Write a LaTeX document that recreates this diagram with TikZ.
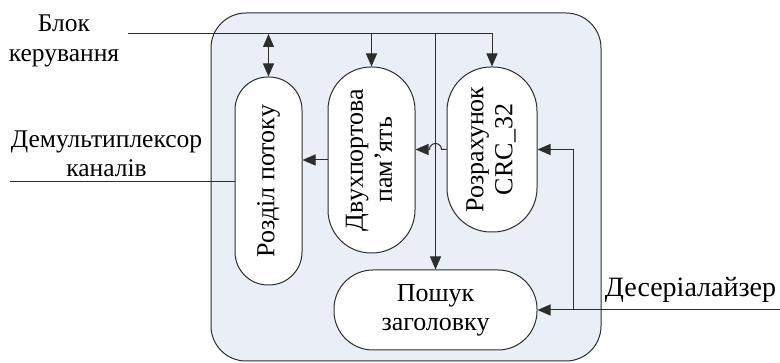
\documentclass[tikz,border=0pt]{standalone}
\usepackage{fontspec}
\setmainfont{Liberation Serif}
\newfontfamily\diagfont{Liberation Serif}
\usetikzlibrary{arrows.meta,calc}
\definecolor{blkfill}{RGB}{234,239,247}
\definecolor{blkline}{RGB}{45,45,45}

\begin{document}
\begin{tikzpicture}[x=1pt,y=-1pt,
      unit/.style={rectangle, draw=blkline, fill=white, line width=1pt, align=center, font=\diagfont\fontsize{26}{29}\selectfont},
      lbl/.style={align=center, inner sep=0pt, anchor=base, font=\diagfont\fontsize{25.5}{30}\selectfont},
      wire/.style={line width=1pt, blkline},
      arr/.style={-{Triangle[length=13pt,width=11pt]}, line width=1pt, blkline},
      darr/.style={{Triangle[length=13pt,width=11pt]}-{Triangle[length=13pt,width=11pt]}, line width=1pt, blkline}
    ]
      \useasboundingbox (0,0) rectangle (780,363);
      \draw[line width=1pt, blkline, fill=blkfill, rounded corners=35pt] (211,13) rectangle (601,361);

      \node[unit, minimum width=67, minimum height=208, rounded corners=33pt] (rozd) at (268.5,181) {\rotatebox{90}{Розділ потоку}};
      \node[unit, minimum width=87, minimum height=186, rounded corners=43pt] (dvuh) at (371.5,160) {\rotatebox{90}{\begin{tabular}{@{}c@{}}Двухпортова\\пам’ять\end{tabular}}};
      \node[unit, minimum width=90, minimum height=165, rounded corners=44pt] (crc) at (492,149.5) {\rotatebox{90}{\begin{tabular}{@{}c@{}}Розрахунок\\CRC\_32\end{tabular}}};
      \node[unit, minimum width=203, minimum height=80, rounded corners=39pt] (posh) at (435.5,310) {Пошук\\заголовку};

      \node[lbl] (ctltxt) at (64,62) {Блок\\керування};
      \node[lbl, font=\diagfont\fontsize{25.5}{29}\selectfont] (dmxtxt) at (106.5,176.5) {Демультиплексор\\каналів};
      \node[lbl, font=\diagfont\fontsize{28}{30}\selectfont] (destxt) at (690.5,297) {Десеріалайзер};

      \coordinate (ctl) at (128,34);
      \coordinate (dmx) at (10,182);
      \coordinate (des) at (780,310);
      \coordinate (br) at (573,310);

      \draw[arr] (ctl) -| (crc.north);
      \draw[darr] (rozd.north |- ctl) -- (rozd.north);
      \draw[arr] (dvuh.north |- ctl) -- (dvuh.north);
      \draw[arr] (posh.north |- ctl) -- (posh.north);
      \draw[arr] (dvuh.west) -- (dvuh.west -| rozd.east);
      \draw[arr] (crc.west) -- ($(crc.west -| posh.north)+(6,0)$) arc[start angle=0, end angle=180, radius=6pt] -- (crc.west -| dvuh.east);
      \draw[wire] (dmx) -- (dmx -| rozd.west);
      \draw[arr] (des) -- (posh.east);
      \draw[arr] (br) |- (crc.east);
    \end{tikzpicture}
\end{document}
